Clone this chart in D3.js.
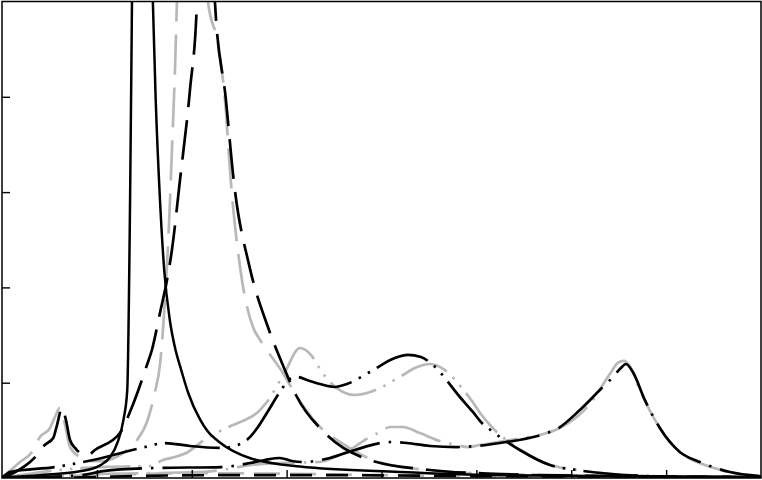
<!DOCTYPE html>
<html>
<head>
<meta charset="utf-8">
<script src="https://cdn.jsdelivr.net/npm/d3@7"></script>
<style>
	body { margin: 0; background: #fff; }
	svg { display: block; }
</style>
</head>
<body>
<div id="chart"></div>
<script>

//////////////////////////////////////////////////////////////////////////
//  RESPONSE CURVES
//  x in units 0..8, y in units 0..5
//////////////////////////////////////////////////////////////////////////

var xTicks = [1, 2, 3, 4, 5, 6, 7];
var yTicks = [1, 2, 3, 4];

// black solid, sharp resonance (goes off the top)
var blackSolidX = [0, 0.40, 0.82, 1.03, 1.14, 1.22, 1.28, 1.32, 1.35, 1.37, 1.465, 1.59, 1.62, 1.665, 1.71, 1.77, 1.83, 1.89, 1.96, 2.09, 2.16, 2.30, 2.61, 3.14, 4.19, 5.25, 8.0];
var blackSolidY = [0.01, 0.03, 0.07, 0.13, 0.22, 0.38, 0.61, 0.92, 2.92, 5.0, 15, 5.0, 3.97, 2.92, 2.18, 1.65, 1.34, 1.13, 0.90, 0.61, 0.50, 0.37, 0.21, 0.12, 0.063, 0.03, 0.01];

// long dash pair
var blackDashX = [0, 0.14, 0.295, 0.37, 0.45, 0.54, 0.58, 0.632, 0.674, 0.717, 0.78, 0.843, 0.906, 0.98, 1.243, 1.37, 1.528, 1.58, 1.665, 1.739, 1.791, 1.876, 1.981, 2.055, 2.15, 2.244, 2.36, 2.445, 2.613, 2.803, 2.982, 3.098, 3.404, 3.878, 4.51, 5.248, 6.3, 8.0];
var blackDashY = [0, 0.063, 0.168, 0.241, 0.346, 0.42, 0.556, 0.735, 0.609, 0.399, 0.304, 0.252, 0.241, 0.294, 0.472, 0.745, 1.186, 1.343, 1.731, 2.078, 2.392, 3.127, 4.07, 5.0, 9, 5.0, 3.97, 3.1, 2.2, 1.584, 1.133, 0.871, 0.472, 0.189, 0.084, 0.042, 0.021, 0.01];

var grayDashX = [0, 0.19, 0.316, 0.40, 0.506, 0.558, 0.61, 0.664, 0.717, 0.822, 0.927, 1.033, 1.243, 1.423, 1.528, 1.612, 1.665, 1.718, 1.76, 1.791, 1.823, 1.844, 2.002, 2.171, 2.276, 2.35, 2.413, 2.529, 2.645, 2.72, 2.961, 3.098, 3.383, 3.53, 3.909, 4.478, 5.248, 8.0];
var grayDashY = [0, 0.168, 0.273, 0.43, 0.525, 0.64, 0.735, 0.556, 0.325, 0.22, 0.178, 0.178, 0.241, 0.399, 0.587, 0.902, 1.186, 1.868, 2.655, 3.44, 4.28, 5.0, 8, 5.0, 4.56, 3.97, 3.1, 2.08, 1.584, 1.45, 1.102, 0.871, 0.504, 0.399, 0.189, 0.084, 0.042, 0.01];

// dash-dot-dot pair, two peaks in the middle
var blackDddX = [0, 0.084, 0.558, 0.959, 1.507, 1.718, 1.981, 2.318, 2.455, 2.592, 2.698, 2.792, 2.929, 3.035, 3.119, 3.214, 3.351, 3.509, 3.635, 3.878, 4.141, 4.278, 4.415, 4.542, 4.826, 4.963, 5.058, 5.163, 5.458, 5.774, 6.059, 6.797, 8.0];
var blackDddY = [0, 0.063, 0.115, 0.189, 0.325, 0.367, 0.336, 0.315, 0.336, 0.409, 0.535, 0.682, 0.902, 1.039, 1.06, 1.028, 0.986, 0.955, 0.986, 1.112, 1.259, 1.291, 1.27, 1.186, 0.85, 0.693, 0.577, 0.493, 0.294, 0.136, 0.084, 0.021, 0];

var grayDddX = [0, 0.506, 1.033, 1.56, 1.697, 1.823, 1.96, 2.086, 2.434, 2.561, 2.687, 2.792, 2.982, 3.14, 3.256, 3.351, 3.456, 3.72, 3.983, 4.099, 4.226, 4.352, 4.51, 4.668, 4.847, 4.953, 5.047, 5.163, 5.458, 5.774, 6.059, 6.797, 8.0];
var grayDddY = [0, 0.073, 0.115, 0.126, 0.189, 0.22, 0.273, 0.367, 0.556, 0.609, 0.682, 0.797, 1.112, 1.364, 1.291, 1.144, 1.007, 0.871, 0.944, 1.007, 1.081, 1.154, 1.196, 1.133, 0.944, 0.808, 0.672, 0.535, 0.30, 0.14, 0.084, 0.021, 0];

// dash-dot pair, peak on the right
var blackDdX = [0, 0.843, 1.064, 1.591, 2.318, 2.613, 2.771, 2.929, 3.056, 3.172, 3.298, 3.456, 3.72, 3.983, 4.12, 4.268, 4.51, 4.794, 5.005, 5.248, 5.743, 5.848, 6.091, 6.301, 6.428, 6.523, 6.575, 6.649, 6.776, 6.934, 7.039, 7.144, 7.355, 7.671, 7.987];
var blackDdY = [0, 0.031, 0.073, 0.105, 0.115, 0.157, 0.189, 0.21, 0.178, 0.168, 0.178, 0.21, 0.294, 0.367, 0.378, 0.367, 0.336, 0.325, 0.336, 0.367, 0.472, 0.514, 0.714, 0.923, 1.049, 1.154, 1.196, 1.112, 0.818, 0.525, 0.378, 0.273, 0.168, 0.063, 0.021];

var grayDdX = [0, 1.033, 2.086, 2.318, 2.613, 2.929, 3.34, 3.509, 3.667, 3.825, 3.983, 4.089, 4.226, 4.405, 4.615, 4.794, 4.91, 5.037, 5.353, 5.743, 5.88, 6.196, 6.407, 6.491, 6.554, 6.617, 6.723, 6.934, 7.144, 7.355, 7.671, 7.987];
var grayDdY = [0, 0.042, 0.063, 0.084, 0.136, 0.157, 0.168, 0.22, 0.294, 0.399, 0.483, 0.535, 0.535, 0.472, 0.388, 0.346, 0.325, 0.346, 0.399, 0.472, 0.525, 0.776, 1.091, 1.207, 1.228, 1.175, 0.923, 0.525, 0.273, 0.157, 0.063, 0.01];

// pair that stays down along the axis
var blackLowX = [0, 1.0, 1.4, 2.4, 3.5, 5.0, 6.5, 8.0];
var blackLowY = [0, 0.01, 0.02, 0.03, 0.03, 0.02, 0.015, 0.01];
var grayLowX = [0, 1.0, 2.0, 3.0, 4.0, 5.0, 6.0, 8.0];
var grayLowY = [0, 0.03, 0.05, 0.045, 0.03, 0.02, 0.015, 0.01];


var chart = (function() {
	var external = {};

	var width = 762, height = 480;
	var plot = { left: 2, right: 761, top: 1.5, bottom: 478 };

	var black = "#000000";
	var gray = "#b8b8b8";

	// draw order: grays under blacks
	var series = [
		{ x: grayLowX,   y: grayLowY,   color: gray,  dash: "26,10",              w: 2.6 },
		{ x: grayDashX,  y: grayDashY,  color: gray,  dash: "40,13",              w: 2.7 },
		{ x: grayDddX,   y: grayDddY,   color: gray,  dash: "50,8,2.5,8,2.5,8",   w: 2.7 },
		{ x: grayDdX,    y: grayDdY,    color: gray,  dash: "58,9,2.5,9",         w: 2.7 },
		{ x: blackLowX,  y: blackLowY,  color: black, dash: "22,14",              w: 2.6 },
		{ x: blackSolidX,y: blackSolidY,color: black, dash: null,                 w: 2.5 },
		{ x: blackDashX, y: blackDashY, color: black, dash: "40,13",              w: 2.7 },
		{ x: blackDddX,  y: blackDddY,  color: black, dash: "55,8,2.5,8,2.5,8",   w: 2.7 },
		{ x: blackDdX,   y: blackDdY,   color: black, dash: "60,9,2.5,9",         w: 2.7 }
	];

	var xScale = d3.scaleLinear().domain([0, 8]).range([plot.left, plot.right]);
	var yScale = d3.scaleLinear().domain([0, 5]).range([plot.bottom, plot.top]);

	external.render = function() {
		var svg = d3.select("#chart").append("svg")
			.attr("width", width)
			.attr("height", height);

		svg.append("clipPath").attr("id", "plotClip")
			.append("rect")
			.attr("x", plot.left)
			.attr("y", plot.top)
			.attr("width", plot.right - plot.left)
			.attr("height", plot.bottom - plot.top);

		var line = d3.line()
			.x(function(d) { return xScale(d[0]); })
			.y(function(d) { return yScale(d[1]); })
			.curve(d3.curveMonotoneX);

		var g = svg.append("g").attr("clip-path", "url(#plotClip)");

		g.selectAll(".curve")
			.data(series)
			.enter()
			.append("path")
			.attr("class", "curve")
			.attr("fill", "none")
			.attr("stroke", function(s) { return s.color; })
			.attr("stroke-width", function(s) { return s.w; })
			.attr("stroke-dasharray", function(s) { return s.dash; })
			.attr("stroke-linejoin", "round")
			.attr("d", function(s) {
				return line(s.x.map(function(v, i) { return [v, s.y[i]]; }));
			});

		// ticks point inward, no labels
		svg.append("g")
			.attr("transform", "translate(" + plot.left + ",0)")
			.call(d3.axisLeft(yScale).tickValues(yTicks).tickSize(-8).tickFormat(""))
			.call(function(a) { a.select(".domain").remove(); })
			.selectAll("line").attr("stroke", "#000").attr("stroke-width", 1.4);

		svg.append("g")
			.attr("transform", "translate(0," + plot.bottom + ")")
			.call(d3.axisBottom(xScale).tickValues(xTicks).tickSize(-8).tickFormat(""))
			.call(function(a) { a.select(".domain").remove(); })
			.selectAll("line").attr("stroke", "#000").attr("stroke-width", 1.4);

		// frame
		svg.append("rect")
			.attr("x", plot.left)
			.attr("y", plot.top)
			.attr("width", plot.right - plot.left)
			.attr("height", plot.bottom - plot.top)
			.attr("fill", "none")
			.attr("stroke", "#000")
			.attr("stroke-width", 1.5);
	};

	return external;
})();

chart.render();

</script>
</body>
</html>
